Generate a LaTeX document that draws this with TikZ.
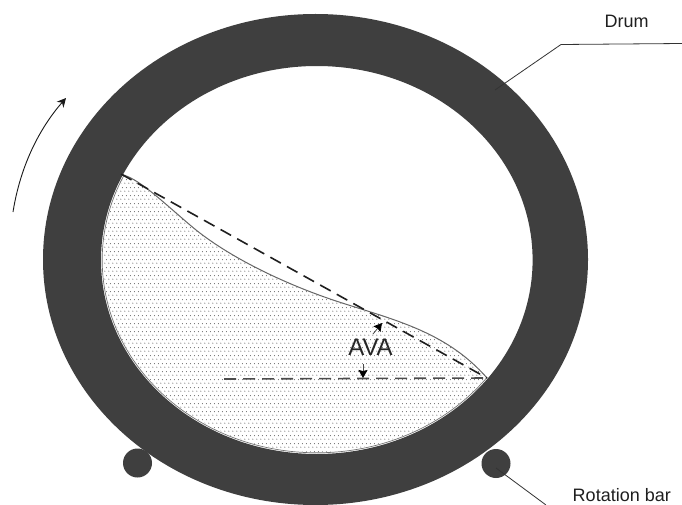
\documentclass[tikz,border=0pt]{standalone}
\usepackage{fontspec}
\setmainfont{Liberation Sans}
\usetikzlibrary{arrows.meta,patterns}
\definecolor{drum}{HTML}{3F3F3F}
\pgfdeclarepatternformonly{powderdots}{\pgfpoint{0pt}{0pt}}{\pgfpoint{4pt}{8pt}}{\pgfpoint{4pt}{8pt}}{
  \pgfpathcircle{\pgfpoint{1pt}{2pt}}{.62pt}
  \pgfpathcircle{\pgfpoint{3pt}{6pt}}{.62pt}
  \pgfusepath{fill}
}
\tikzset{
  label text/.style={inner sep=0pt,font=\fontsize{18}{20}\selectfont,text=black!88},
  leader/.style={draw=black!80,line width=.8pt},
  guide/.style={draw=black!88,line width=1.6pt,dash pattern=on 12pt off 7pt},
  tick/.style={draw=black!70,line width=.8pt,-{Stealth[length=8pt,width=9pt,inset=1pt,color=black]}},
  roller/.style={circle,fill=drum,inner sep=0pt,minimum size=29pt},
}
\newcommand{\surfpath}{(121,174) .. controls (140,180) and (155,195) .. (190,225) .. controls (225,255) and (280,282) .. (333,300) .. controls (390,319) and (445,330) .. (487,378)}
\begin{document}
\begin{tikzpicture}[x=1pt,y=-1pt]
\useasboundingbox (0,0) rectangle (682,505);
\fill[white] (0,0) rectangle (682,505);
% rollers
\node[roller] (rollL) at (137.5,463) {};
\node[roller] (rollR) at (496,463.5) {};
% drum
\fill[drum,even odd rule] (315.5,259.5) ellipse [x radius=272.5,y radius=245.5]
   (316.8,260) ellipse [x radius=215.8,y radius=194];
% powder
\begin{scope}
\clip \surfpath -- (560,520) -- (80,520) -- (80,174) -- cycle;
\draw[black!55,line width=.7pt] (316.8,260) ellipse [x radius=214.6,y radius=192.8];
\clip (316.8,260) ellipse [x radius=213.6,y radius=191.8];
\fill[pattern=powderdots,pattern color=black!62] (80,160) rectangle (560,460);
\end{scope}
\draw[black!60,line width=1pt] \surfpath;
% dashed guides
\coordinate (surfA) at (121,174);
\coordinate (surfB) at (487,378);
\coordinate (horiz) at (224,379);
\draw[guide] (surfA) -- (surfB);
\draw[guide,draw=black!70] (horiz) -- (surfB);
% AVA
\node[inner sep=0pt,font=\fontsize{24}{26}\selectfont,text=black!85] (ava) at (370.5,347.5) {AVA};
\coordinate (t1) at (382,323);
\coordinate (t1s) at (373,334);
\coordinate (t2) at (363,378);
\coordinate (t2s) at (363,364);
\draw[tick] (t1s) -- (t1);
\draw[tick] (t2s) -- (t2);
% labels
\node[label text] (drumlabel) at (626.5,21.5) {Drum};
\coordinate (d1) at (682,43.5);
\coordinate (d2) at (561,44.5);
\coordinate (d3) at (495,90);
\draw[leader] (d1) -- (d2) -- (d3);
\node[label text,anchor=base east] (rotlabel) at (671,501) {Rotation bar};
\coordinate (r0) at (496,468);
\coordinate (r1) at (546,505);
\draw[leader] (r0) -- (r1);
% rotation arrow
\coordinate (a1) at (13,212);
\coordinate (a2) at (66,98);
\draw[black!90,line width=.9pt,-{Stealth[length=9pt,width=9pt]}] (a1) .. controls (20,168) and (38,130) .. (a2);
\end{tikzpicture}
\end{document}
